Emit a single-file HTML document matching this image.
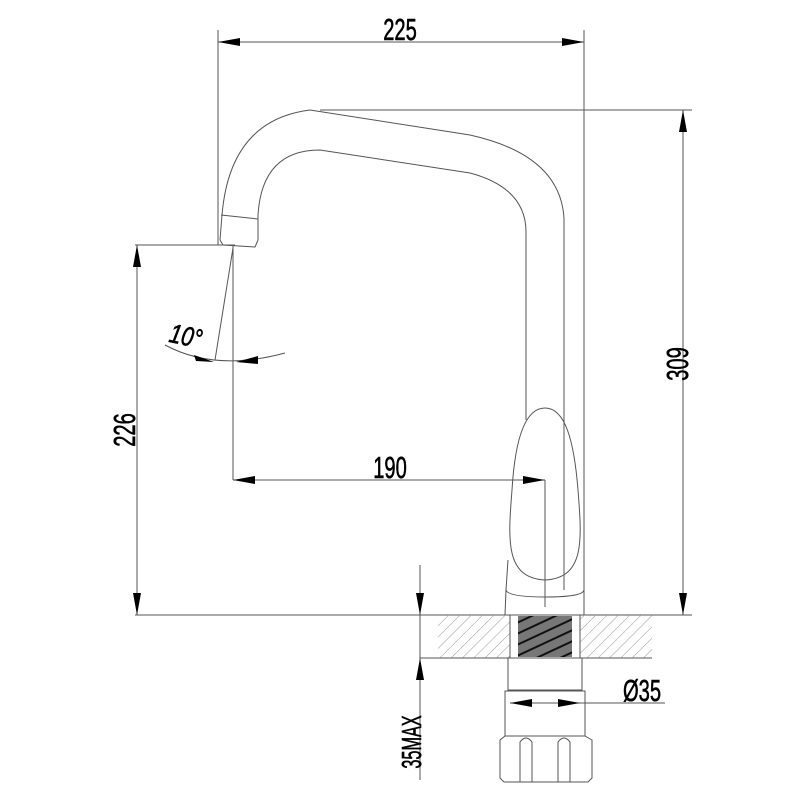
<!DOCTYPE html>
<html><head><style>body{margin:0;background:#fff}svg{display:block}</style></head><body>
<svg width="800" height="800" viewBox="0 0 800 800" xmlns="http://www.w3.org/2000/svg" font-family="Liberation Sans, sans-serif">
<defs>
<pattern id="h" width="8" height="8" patternUnits="userSpaceOnUse" patternTransform="rotate(45)"><line x1="0" y1="0" x2="0" y2="8" stroke="#999" stroke-width="1"/></pattern>
<pattern id="d" width="10" height="10" patternUnits="userSpaceOnUse" patternTransform="rotate(-25)"><rect width="10" height="10" fill="#777"/><line x1="0" y1="3" x2="10" y2="3" stroke="#111" stroke-width="2"/></pattern>
</defs>
<g fill="none" stroke="#555" stroke-width="1">
<line x1="218" y1="42" x2="584" y2="42"/>
<line x1="218" y1="30" x2="218" y2="245"/>
<line x1="584" y1="30" x2="584" y2="615"/>
<line x1="683" y1="110" x2="683" y2="615"/>
<line x1="320" y1="110" x2="692" y2="110"/>
<line x1="135" y1="615" x2="692" y2="615"/>
<line x1="137" y1="245" x2="137" y2="615"/>
<line x1="135" y1="245" x2="235" y2="245"/>
<line x1="233" y1="245" x2="233" y2="480"/>
<line x1="233" y1="480" x2="545" y2="480"/>
<line x1="545" y1="480" x2="545" y2="607"/>
<line x1="233" y1="248" x2="215" y2="360"/>
<path d="M165 345 Q215 372 285 353"/>
<path d="M220 240 L222 215 Q230 120 310 110 L470 135 Q560 155 564 218 L564 590"/>
<path d="M258 240 L258 215 Q262 150 320 150 L470 173 Q526 188 526 232 L526 420"/>
<line x1="221" y1="215" x2="258" y2="219"/>
<path d="M220 240 L223 245 L255 247 L258 240"/>
<path d="M545 408 C525 408 515 440 512 490 C508 540 505 578 545 580 C585 578 582 540 578 490 C574 440 565 408 545 408Z"/>
<path d="M508 560 L506 590 Q508 597 545 597 Q583 597 584 590"/>
<line x1="506" y1="590" x2="505" y2="615"/>
<rect x="438" y="615" width="72" height="43" fill="url(#h)" stroke="none"/>
<rect x="580" y="615" width="72" height="43" fill="url(#h)" stroke="none"/>
<line x1="420" y1="658" x2="652" y2="658"/>
<line x1="510" y1="615" x2="510" y2="658"/>
<line x1="580" y1="615" x2="580" y2="658"/>
<rect x="518" y="616" width="54" height="41" fill="url(#d)" stroke="none"/>
<rect x="508" y="658" width="74" height="32"/>
<rect x="505" y="691" width="80" height="45"/>
<path d="M505 736 L500 740 L500 778 L504 782 L588 782 L592 778 L592 740 L585 736"/>
<path d="M520 782 L520 742 Q526 734 532 742 L532 782"/>
<path d="M558 782 L558 742 Q564 734 570 742 L570 782"/>
<line x1="510" y1="703" x2="665" y2="703"/>
<line x1="420" y1="565" x2="420" y2="780"/>
</g>
<g fill="#000">
<path d="M218 42 l22 -4 v8z M584 42 l-22 -4 v8z"/>
<path d="M683 110 l-4 22 h8z M683 615 l-4 -22 h8z"/>
<path d="M137 245 l-4 22 h8z M137 615 l-4 -22 h8z"/>
<path d="M233 480 l22 -4 v8z M545 480 l-22 -4 v8z"/>
<path d="M214 362 l-20 -7 l2 6z M236 362 l22 -6 v8z"/>
<path d="M420 615 l-4 -22 h8z M420 658 l-4 22 h8z"/>
<path d="M510 703 l22 -4 v8z M580 703 l-22 -4 v8z"/>
</g>
<g font-size="31" fill="#000" stroke="#000" stroke-width="0.6" text-anchor="middle">
<text transform="translate(400 40) scale(0.65 1)">225</text>
<text transform="translate(390 478) scale(0.65 1)">190</text>
<text transform="translate(642 701) scale(0.65 1)">Ø35</text>
<text transform="translate(688 364) rotate(-90) scale(0.65 1)">309</text>
<text transform="translate(135 430) rotate(-90) scale(0.65 1)">226</text>
<text transform="translate(421 742) rotate(-90) scale(0.58 1)" font-size="28">35MAX</text>
<text transform="translate(184 345) rotate(12) scale(0.8 1)" font-style="italic" font-size="27">10°</text>
</g>
</svg>
</body></html>
